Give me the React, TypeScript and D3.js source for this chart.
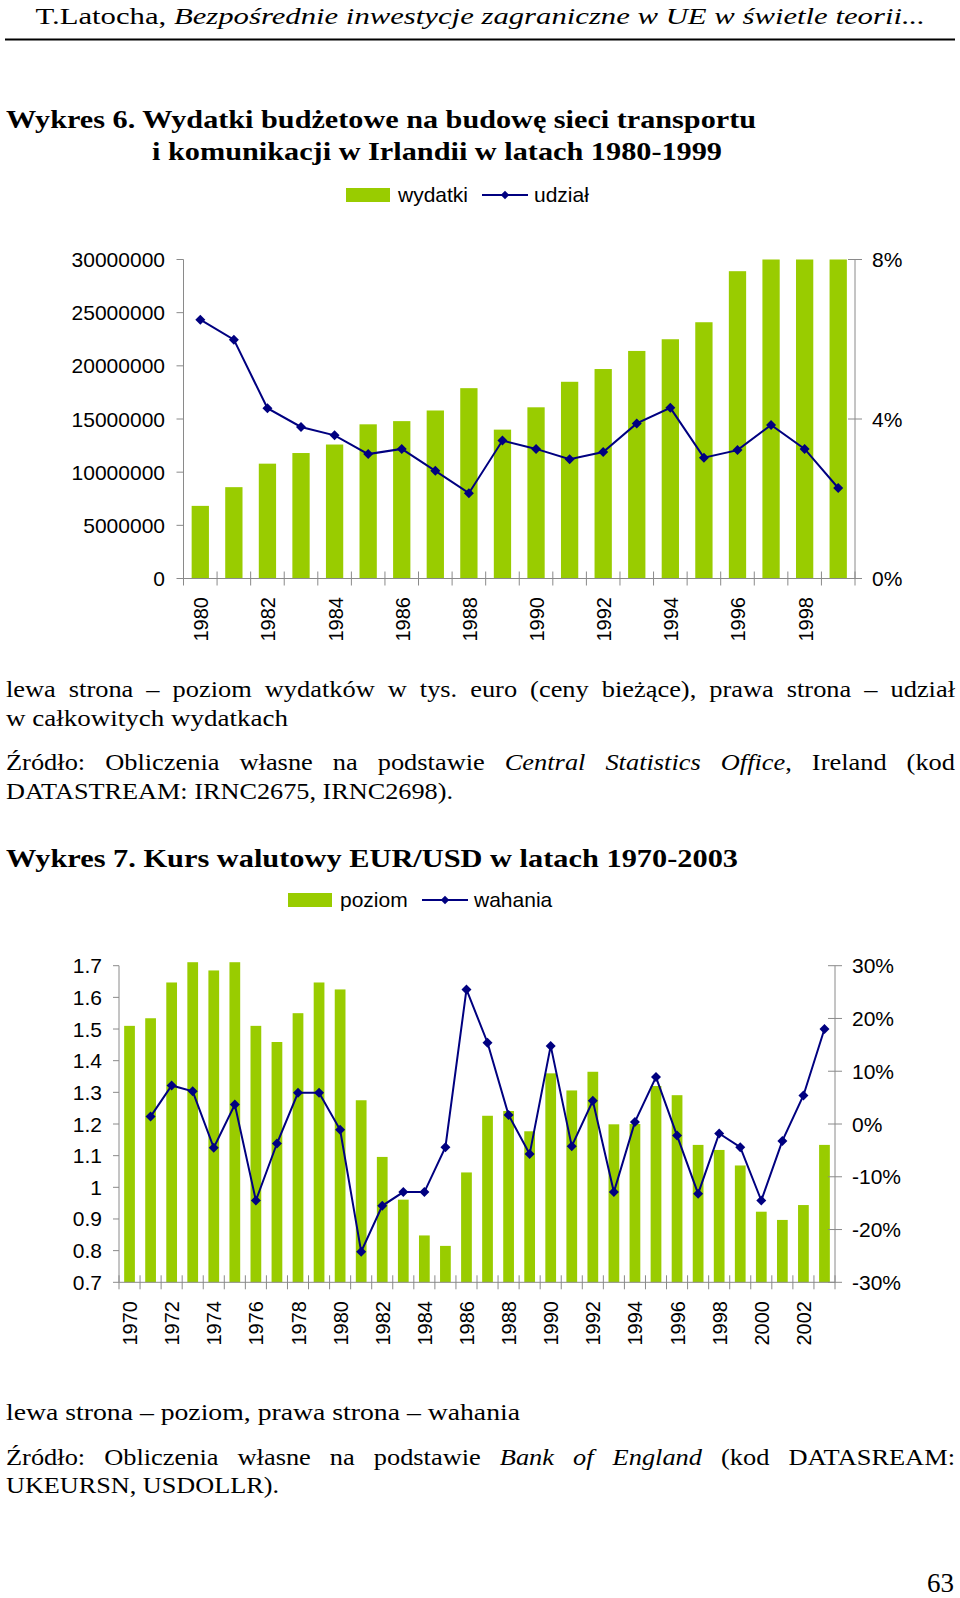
import React from 'react';
import * as d3 from 'd3';

// ---------- Data: Wykres 6 ----------
const expYears = [1980, 1981, 1982, 1983, 1984, 1985, 1986, 1987, 1988, 1989, 1990, 1991, 1992, 1993, 1994, 1995, 1996, 1997, 1998, 1999];
const expValues = [6830000, 8590000, 10800000, 11800000, 12600000, 14500000, 14800000, 15800000, 17900000, 14000000, 16100000, 18500000, 19700000, 21400000, 22500000, 24100000, 28900000, 31000000, 32000000, 33000000];
const expShare = [6.49, 5.99, 4.27, 3.8, 3.59, 3.12, 3.25, 2.7, 2.14, 3.46, 3.25, 2.99, 3.17, 3.89, 4.28, 3.03, 3.22, 3.85, 3.25, 2.27];
const expLeftTicks = [0, 5000000, 10000000, 15000000, 20000000, 25000000, 30000000];
const expRightTicks = [0, 4, 8];
const expYearLabels = [1980, 1982, 1984, 1986, 1988, 1990, 1992, 1994, 1996, 1998];

// ---------- Data: Wykres 7 ----------
const fxYears = [1970, 1971, 1972, 1973, 1974, 1975, 1976, 1977, 1978, 1979, 1980, 1981, 1982, 1983, 1984, 1985, 1986, 1987, 1988, 1989, 1990, 1991, 1992, 1993, 1994, 1995, 1996, 1997, 1998, 1999, 2000, 2001, 2002, 2003];
const fxLevel = [1.51, 1.534, 1.647, 1.711, 1.685, 1.711, 1.51, 1.459, 1.55, 1.647, 1.625, 1.275, 1.096, 0.961, 0.848, 0.815, 1.047, 1.226, 1.241, 1.177, 1.36, 1.306, 1.365, 1.199, 1.2, 1.32, 1.291, 1.134, 1.118, 1.069, 0.923, 0.897, 0.944, 1.134];
const fxChange: (number | null)[] = [null, 1.4, 7.3, 6.2, -4.5, 3.7, -14.5, -3.7, 5.9, 5.9, -1.1, -24.2, -15.5, -12.9, -12.9, -4.4, 25.5, 15.4, 1.7, -5.7, 14.8, -4.2, 4.4, -12.9, 0.4, 8.9, -2.2, -13.2, -1.8, -4.4, -14.5, -3.2, 5.4, 18.0];
const fxLeftTicks = [0.7, 0.8, 0.9, 1.0, 1.1, 1.2, 1.3, 1.4, 1.5, 1.6, 1.7];
const fxLeftLabels = ['0.7', '0.8', '0.9', '1', '1.1', '1.2', '1.3', '1.4', '1.5', '1.6', '1.7'];
const fxRightTicks = [-30, -20, -10, 0, 10, 20, 30];
const fxYearLabels = [1970, 1972, 1974, 1976, 1978, 1980, 1982, 1984, 1986, 1988, 1990, 1992, 1994, 1996, 1998, 2000, 2002];

// ---------- Text ----------
const headerText = 'T.Latocha, *Bezpośrednie inwestycje zagraniczne w UE w świetle teorii...*';
const title6a = 'Wykres 6. Wydatki budżetowe na budowę sieci transportu';
const title6b = 'i komunikacji w Irlandii w latach 1980-1999';
const noteA1 = 'lewa strona – poziom wydatków w tys. euro (ceny bieżące), prawa strona – udział';
const noteA2 = 'w całkowitych wydatkach';
const srcA1 = 'Źródło: Obliczenia własne na podstawie *Central Statistics Office*, Ireland (kod';
const srcA2 = 'DATASTREAM: IRNC2675, IRNC2698).';
const title7 = 'Wykres 7. Kurs walutowy EUR/USD w latach 1970-2003';
const noteB1 = 'lewa strona – poziom, prawa strona – wahania';
const srcB1 = 'Źródło: Obliczenia własne na podstawie *Bank of England* (kod DATASREAM:';
const srcB2 = 'UKEURSN, USDOLLR).';
const pageNo = '63';

const SERIF = 'Liberation Serif';
const SANS = 'Liberation Sans';
const GREEN = '#99cc00';
const NAVY = '#000080';
const AXIS = '#8a8a8a';

let _ctx: CanvasRenderingContext2D | null = null;
function measure(text: string, size: number, italic: boolean, bold: boolean) {
  if (!_ctx) _ctx = document.createElement('canvas').getContext('2d');
  if (!_ctx) return text.length * size * 0.45;
  _ctx.font = `${italic ? 'italic ' : ''}${bold ? 'bold ' : ''}${size}px "Liberation Serif"`;
  return _ctx.measureText(text).width;
}

type Seg = { t: string; i: boolean };
function parseSegs(s: string): Seg[] {
  const out: Seg[] = [];
  let italic = false;
  s.split('*').forEach((part, idx) => {
    if (idx > 0) italic = !italic;
    if (part.length) out.push({ t: part, i: italic });
  });
  return out;
}

function Line({ text, x, x2, y, size, bold = false }: { text: string; x: number; x2: number; y: number; size: number; bold?: boolean }) {
  const segs = parseSegs(text);
  return (
    <text x={x} y={y} fontFamily={SERIF} fontSize={size} fontWeight={bold ? 'bold' : 'normal'} textLength={x2 - x} lengthAdjust="spacingAndGlyphs">
      {segs.map((s, k) => (
        <tspan key={k} fontStyle={s.i ? 'italic' : 'normal'}>{s.t}</tspan>
      ))}
    </text>
  );
}

function Justified({ text, x, x2, y, size, stretch = 1.1 }: { text: string; x: number; x2: number; y: number; size: number; stretch?: number }) {
  const words: Seg[][] = [];
  let italic = false;
  text.split(' ').forEach((w) => {
    const segs: Seg[] = [];
    w.split('*').forEach((part, idx) => {
      if (idx > 0) italic = !italic;
      if (part.length) segs.push({ t: part, i: italic });
    });
    words.push(segs);
  });
  const widths = words.map((segs) => segs.reduce((a, s) => a + measure(s.t, size, s.i, false), 0) * stretch);
  const total = widths.reduce((a, b) => a + b, 0);
  const gap = (x2 - x - total) / Math.max(1, words.length - 1);
  let cx = x;
  return (
    <g fontFamily={SERIF} fontSize={size}>
      {words.map((segs, k) => {
        const px = cx;
        cx += widths[k] + gap;
        return (
          <text key={k} x={px} y={y} textLength={widths[k]} lengthAdjust="spacingAndGlyphs">
            {segs.map((s, j) => (
              <tspan key={j} fontStyle={s.i ? 'italic' : 'normal'}>{s.t}</tspan>
            ))}
          </text>
        );
      })}
    </g>
  );
}

const diamond = (area: number) => d3.symbol(d3.symbolSquare, area)() as string;

function Legend({ x, y, a, b }: { x: number; y: number; a: string; b: string }) {
  const textA = x + 52;
  const lineX = textA + (a === 'wydatki' ? 84 : 82);
  return (
    <g fontFamily={SANS} fontSize={21}>
      <rect x={x} y={y - 7} width={44} height={14} fill={GREEN} />
      <text x={textA} y={y + 7}>{a}</text>
      <line x1={lineX} x2={lineX + 46} y1={y} y2={y} stroke={NAVY} strokeWidth={2} />
      <path d={diamond(36)} transform={`translate(${lineX + 23},${y}) rotate(45)`} fill={NAVY} />
      <text x={lineX + 52} y={y + 7}>{b}</text>
    </g>
  );
}

function Chart1() {
  const left = 183.5, right = 855, top = 259.5, bottom = 578.5;
  const x = d3.scaleBand<number>().domain(expYears).range([left, right]).paddingInner(0.485).paddingOuter(0.2425);
  const yL = d3.scaleLinear().domain([0, 30000000]).range([bottom, top]).clamp(true);
  const yR = d3.scaleLinear().domain([0, 8]).range([bottom, top]);
  const cx = (yr: number) => (x(yr) as number) + x.bandwidth() / 2;
  const line = d3.line<number>().x((_, i) => cx(expYears[i])).y((d) => yR(d));
  const bounds = expYears.map((yr) => cx(yr) - x.step() / 2).concat([cx(expYears[expYears.length - 1]) + x.step() / 2]);
  return (
    <g>
      {expValues.map((v, i) => (
        <rect key={i} x={x(expYears[i])} y={yL(v)} width={x.bandwidth()} height={bottom - yL(v)} fill={GREEN} />
      ))}
      <g stroke={AXIS} strokeWidth={1}>
        <line x1={left} x2={left} y1={top} y2={bottom} />
        <line x1={right} x2={right} y1={top} y2={bottom} />
        <line x1={left} x2={right} y1={bottom} y2={bottom} />
        {expLeftTicks.map((t) => (
          <line key={t} x1={left - 7} x2={left} y1={yL(t)} y2={yL(t)} />
        ))}
        {expRightTicks.map((t) => (
          <line key={t} x1={right - 7} x2={right + 7} y1={yR(t)} y2={yR(t)} />
        ))}
        {bounds.map((b, i) => (
          <line key={i} x1={b} x2={b} y1={bottom - 7} y2={bottom + 7} />
        ))}
      </g>
      <path d={line(expShare) as string} fill="none" stroke={NAVY} strokeWidth={2} />
      {expShare.map((d, i) => (
        <path key={i} d={diamond(50)} transform={`translate(${cx(expYears[i])},${yR(d)}) rotate(45)`} fill={NAVY} />
      ))}
      <g fontFamily={SANS} fontSize={21} fill="#000">
        {expLeftTicks.map((t) => (
          <text key={t} x={165} y={yL(t) + 7.5} textAnchor="end">{String(t)}</text>
        ))}
        {expRightTicks.map((t) => (
          <text key={t} x={872} y={yR(t) + 7.5}>{`${t}%`}</text>
        ))}
      </g>
      <g fontFamily={SANS} fontSize={20}>
        {expYearLabels.map((yr) => (
          <text key={yr} transform={`translate(${cx(yr) + 8},${597}) rotate(-90)`} textAnchor="end">{String(yr)}</text>
        ))}
      </g>
    </g>
  );
}

function Chart2() {
  const left = 119, right = 835, top = 965.7, bottom = 1282.3;
  const x = d3.scaleBand<number>().domain(fxYears).range([left, right]).paddingInner(0.49).paddingOuter(0.245);
  const yL = d3.scaleLinear().domain([0.7, 1.7]).range([bottom, top]);
  const yR = d3.scaleLinear().domain([-30, 30]).range([bottom, top]);
  const cx = (yr: number) => (x(yr) as number) + x.bandwidth() / 2;
  const pts = fxChange.map((d, i) => ({ d, yr: fxYears[i] })).filter((p) => p.d !== null) as { d: number; yr: number }[];
  const line = d3.line<{ d: number; yr: number }>().x((p) => cx(p.yr)).y((p) => yR(p.d));
  const bounds = fxYears.map((yr) => cx(yr) - x.step() / 2).concat([cx(fxYears[fxYears.length - 1]) + x.step() / 2]);
  return (
    <g>
      {fxLevel.map((v, i) => (
        <rect key={i} x={x(fxYears[i])} y={yL(v)} width={x.bandwidth()} height={bottom - yL(v)} fill={GREEN} />
      ))}
      <g stroke={AXIS} strokeWidth={1}>
        <line x1={left} x2={left} y1={top} y2={bottom} />
        <line x1={right} x2={right} y1={top} y2={bottom} />
        <line x1={left} x2={right} y1={bottom} y2={bottom} />
        {fxLeftTicks.map((t) => (
          <line key={t} x1={left - 6} x2={left} y1={yL(t)} y2={yL(t)} />
        ))}
        {fxRightTicks.map((t) => (
          <line key={t} x1={right - 7} x2={right + 7} y1={yR(t)} y2={yR(t)} />
        ))}
        {bounds.map((b, i) => (
          <line key={i} x1={b} x2={b} y1={bottom - 7} y2={bottom + 7} />
        ))}
      </g>
      <path d={line(pts) as string} fill="none" stroke={NAVY} strokeWidth={2} />
      {pts.map((p, i) => (
        <path key={i} d={diamond(50)} transform={`translate(${cx(p.yr)},${yR(p.d)}) rotate(45)`} fill={NAVY} />
      ))}
      <g fontFamily={SANS} fontSize={21} fill="#000">
        {fxLeftTicks.map((t, i) => (
          <text key={t} x={102} y={yL(t) + 7.5} textAnchor="end">{fxLeftLabels[i]}</text>
        ))}
        {fxRightTicks.map((t) => (
          <text key={t} x={852} y={yR(t) + 7.5}>{`${t}%`}</text>
        ))}
      </g>
      <g fontFamily={SANS} fontSize={20}>
        {fxYearLabels.map((yr) => (
          <text key={yr} transform={`translate(${cx(yr) + 7.5},${1301}) rotate(-90)`} textAnchor="end">{String(yr)}</text>
        ))}
      </g>
    </g>
  );
}

export default function App() {
  return (
    <svg width={960} height={1598} viewBox="0 0 960 1598" style={{ position: 'absolute', left: 0, top: 0, background: '#fff' }}>
      <rect x={0} y={0} width={960} height={1598} fill="#fff" />
      <Line text={headerText} x={35.5} x2={925} y={23.5} size={24} />
      <line x1={5} x2={955} y1={39.5} y2={39.5} stroke="#000" strokeWidth={2} />
      <Line text={title6a} x={6} x2={756} y={128} size={25} bold />
      <Line text={title6b} x={152} x2={722} y={160} size={25} bold />
      <Legend x={346} y={195} a="wydatki" b="udział" />
      <Chart1 />
      <Justified text={noteA1} x={6} x2={955} y={697} size={24} />
      <Line text={noteA2} x={6} x2={288} y={726} size={24} />
      <Justified text={srcA1} x={6} x2={955} y={770} size={24} />
      <Line text={srcA2} x={6} x2={453} y={799} size={24} />
      <Line text={title7} x={6} x2={738} y={867} size={25} bold />
      <Legend x={288} y={900} a="poziom" b="wahania" />
      <Chart2 />
      <Line text={noteB1} x={6} x2={520} y={1420} size={24} />
      <Justified text={srcB1} x={6} x2={955} y={1465} size={24} />
      <Line text={srcB2} x={6} x2={279} y={1493} size={24} />
      <text x={954} y={1592} textAnchor="end" fontFamily={SERIF} fontSize={27}>{pageNo}</text>
    </svg>
  );
}
